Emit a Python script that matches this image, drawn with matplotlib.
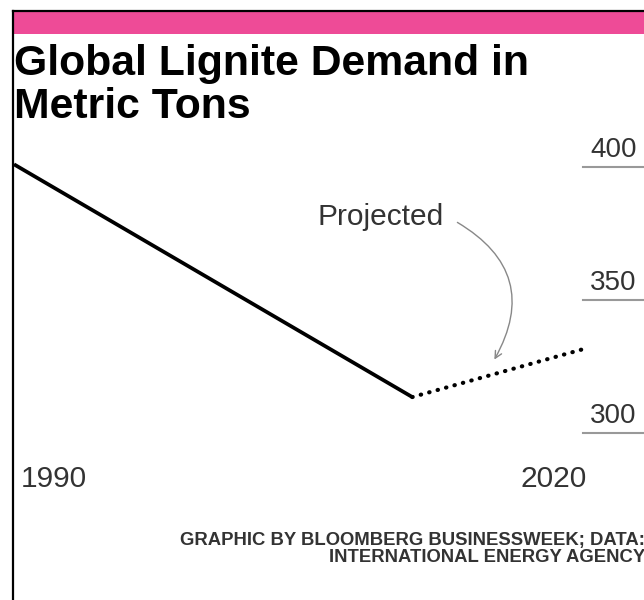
import matplotlib
matplotlib.use('Agg')
import matplotlib.pyplot as plt
from matplotlib.patches import Rectangle, FancyArrowPatch
from matplotlib.lines import Line2D

# Данные
years_actual = [1990, 2011]
demand_actual = [401, 313.5]
years_proj = [2011, 2020]
demand_proj = [313.5, 331.5]
y_ticks = [300, 350, 400]
x_ticks = [1990, 2020]
x_labels = ['1990', '2020']

W, H = 644, 600


def fx(px):
    return px / W


def fy(py):
    return 1 - py / H


plt.rcParams['font.family'] = ['Liberation Sans', 'DejaVu Sans']
fig = plt.figure(figsize=(W / 100, H / 100), dpi=100)

# Рамка и розовая полоса
fig.add_artist(Line2D([fx(13), fx(13)], [fy(11), fy(600)], color='black', lw=1.6))
fig.add_artist(Line2D([fx(13), fx(644)], [fy(11), fy(11)], color='black', lw=1.6))
fig.add_artist(Rectangle((fx(14), fy(34)), fx(630), 22 / H, color='#ee4b97', lw=0))

# Заголовок
fig.text(fx(14), fy(75), 'Global Lignite Demand in', fontsize=30.8, fontweight='bold',
         ha='left', va='baseline')
fig.text(fx(14), fy(118), 'Metric Tons', fontsize=30.8, fontweight='bold',
         ha='left', va='baseline')

# Подпись источника
fig.text(fx(645), fy(545), 'GRAPHIC BY BLOOMBERG BUSINESSWEEK; DATA:', fontsize=13.3,
         fontweight='bold', color='#333333', ha='right', va='baseline')
fig.text(fx(645), fy(562), 'INTERNATIONAL ENERGY AGENCY', fontsize=13.3,
         fontweight='bold', color='#333333', ha='right', va='baseline')

# График
ax = fig.add_axes([fx(14), fy(450), fx(630), 310 / H])
ax.axis('off')
px_per_year = 569 / 30
ax.set_xlim(1990, 1990 + 630 / px_per_year)
ax.set_ylim(293.6, 410.15)

ax.plot(years_actual, demand_actual, color='black', lw=2.7, solid_capstyle='butt')
ax.plot(years_proj, demand_proj, color='black', lw=3, linestyle=(0, (0.1, 2.0)),
        dash_capstyle='round')

x0, x1 = ax.get_xlim()
for v in y_ticks:
    ax.axhline(v, xmin=(x_ticks[-1] - x0) / (x1 - x0), xmax=1, color='#999999', lw=1.5)
    ax.annotate(str(v), xy=(x_ticks[-1], v), xytext=(7, 9.5), textcoords='offset pixels',
                ha='left', va='baseline', fontsize=20, color='#333333', annotation_clip=False)

for yr, lab, ha, dx in zip(x_ticks, x_labels, ['left', 'right'], [7, 4]):
    ax.annotate(lab, xy=(yr, 293.6), xytext=(dx, -37), textcoords='offset pixels',
                ha=ha, va='baseline', fontsize=21.5, color='#333333', annotation_clip=False)

# Аннотация "Projected"
fig.text(fx(318), fy(225), 'Projected', ha='left', va='baseline', fontsize=21.5,
         color='#333333')
fig.add_artist(FancyArrowPatch(
    (fx(455), fy(221)), (fx(493), fy(362)), transform=fig.transFigure,
    connectionstyle='arc3,rad=-0.5', arrowstyle='->,head_length=5,head_width=2.5',
    color='#888888', lw=1))

fig.savefig('out.png', dpi=100)
